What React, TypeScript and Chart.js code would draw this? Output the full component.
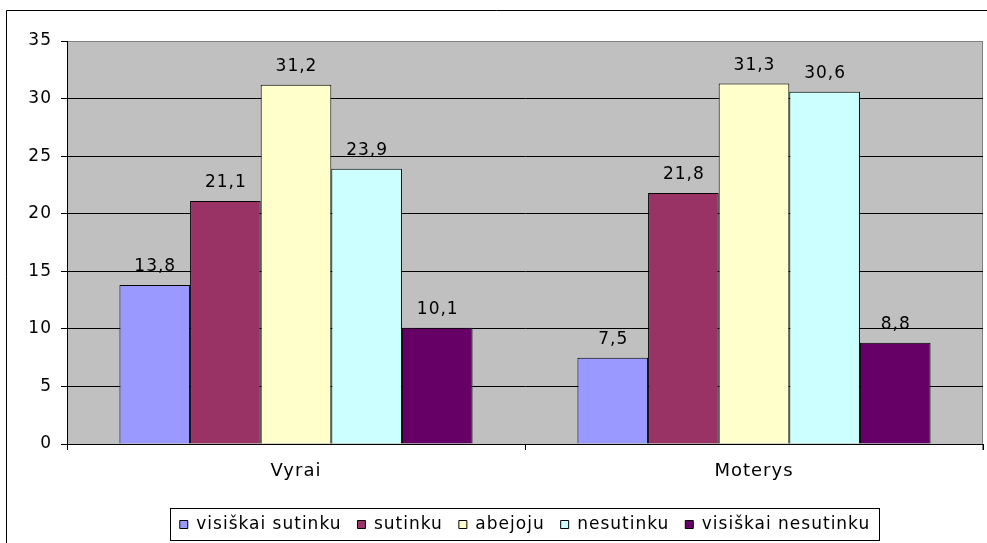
import React, { useEffect, useRef } from 'react';
import { Chart, registerables } from 'chart.js';

Chart.register(...registerables);

const categories = ['Vyrai', 'Moterys'];
const seriesNames = ['visiškai sutinku', 'sutinku', 'abejoju', 'nesutinku', 'visiškai nesutinku'];
const visiskaiSutinku = [13.8, 7.5];
const sutinku = [21.1, 21.8];
const abejoju = [31.2, 31.3];
const nesutinku = [23.9, 30.6];
const visiskaiNesutinku = [10.1, 8.8];
const seriesColors = ['#9999FF', '#993366', '#FFFFCC', '#CCFFFF', '#660066'];
const yMin = 0;
const yMax = 35;
const yStep = 5;

const FONT = "'DejaVu Sans', sans-serif";
const SPACING = '1px';

const fmt = (v: number) => v.toFixed(1).replace('.', ',');

const setSpacing = (chart: any) => {
  try {
    (chart.ctx as any).letterSpacing = SPACING;
  } catch (e) {
    /* ignore */
  }
};

const backgroundPlugin = {
  id: 'bgFrame',
  beforeLayout(chart: any) {
    setSpacing(chart);
  },
  beforeDraw(chart: any) {
    setSpacing(chart);
    const { ctx, chartArea, width, height } = chart;
    ctx.save();
    ctx.fillStyle = '#FFFFFF';
    ctx.fillRect(0, 0, width, height);
    // outer frame
    ctx.strokeStyle = '#000000';
    ctx.lineWidth = 1;
    ctx.beginPath();
    ctx.moveTo(6.5, height);
    ctx.lineTo(6.5, 10.5);
    ctx.lineTo(width, 10.5);
    ctx.stroke();
    // plot area
    ctx.fillStyle = '#C0C0C0';
    ctx.fillRect(chartArea.left, chartArea.top, chartArea.right - chartArea.left, chartArea.bottom - chartArea.top);
    ctx.strokeStyle = '#808080';
    ctx.beginPath();
    ctx.moveTo(chartArea.left, Math.round(chartArea.top) + 0.5);
    ctx.lineTo(Math.round(chartArea.right) - 0.5, Math.round(chartArea.top) + 0.5);
    ctx.lineTo(Math.round(chartArea.right) - 0.5, chartArea.bottom + 6);
    ctx.stroke();
    ctx.restore();
  },
};

const valueLabelPlugin = {
  id: 'valueLabels',
  afterDatasetsDraw(chart: any) {
    const { ctx } = chart;
    ctx.save();
    ctx.font = `17px ${FONT}`;
    ctx.fillStyle = '#000000';
    ctx.textAlign = 'center';
    ctx.textBaseline = 'alphabetic';
    chart.data.datasets.forEach((ds: any, i: number) => {
      const meta = chart.getDatasetMeta(i);
      meta.data.forEach((el: any, j: number) => {
        ctx.fillText(fmt(ds.data[j]), el.x + 0.5, el.y - 14);
      });
    });
    ctx.restore();
  },
};

const legendFramePlugin = {
  id: 'legendFrame',
  afterDraw(chart: any) {
    const lg = chart.legend;
    if (!lg || !lg.legendHitBoxes || !lg.legendHitBoxes.length) return;
    const hb = lg.legendHitBoxes;
    const first = hb[0];
    const last = hb[hb.length - 1];
    const x0 = Math.round(first.left - 10) + 0.5;
    const x1 = Math.round(last.left + last.width + 9) + 0.5;
    const cy = first.top + first.height / 2;
    const y0 = Math.round(cy - 17) + 0.5;
    const y1 = Math.round(cy + 15) + 0.5;
    const { ctx } = chart;
    ctx.save();
    ctx.strokeStyle = '#000000';
    ctx.lineWidth = 1;
    ctx.strokeRect(x0, y0, x1 - x0, y1 - y0);
    ctx.restore();
  },
};

export default function App() {
  const canvasRef = useRef<HTMLCanvasElement | null>(null);

  useEffect(() => {
    document.body.style.margin = '0';
    const canvas = canvasRef.current;
    if (!canvas) return;
    Chart.defaults.font.family = FONT;
    const seriesData = [visiskaiSutinku, sutinku, abejoju, nesutinku, visiskaiNesutinku];
    const chart = new Chart(canvas, {
      type: 'bar',
      data: {
        labels: categories,
        datasets: seriesNames.map((name, i) => ({
          label: name,
          data: seriesData[i],
          backgroundColor: seriesColors[i],
          borderColor: '#000000',
          borderWidth: 1,
          categoryPercentage: 0.771,
          barPercentage: 1,
        })),
      },
      options: {
        responsive: false,
        animation: false,
        devicePixelRatio: 1,
        layout: { padding: { top: 41, right: 4, bottom: 0, left: 0 } },
        plugins: {
          tooltip: { enabled: false },
          legend: {
            position: 'bottom',
            fullSize: false,
            labels: {
              boxWidth: 8,
              boxHeight: 8,
              padding: 16,
              color: '#000000',
              font: { size: 17, family: FONT },
            },
          },
        },
        scales: {
          x: {
            grid: {
              display: true,
              drawOnChartArea: false,
              drawTicks: true,
              tickLength: 6,
              color: '#000000',
              offset: true,
            },
            border: { display: true, color: '#000000', width: 1 },
            ticks: { color: '#000000', font: { size: 18, family: FONT }, padding: 11 },
            afterFit: (scale: any) => {
              scale.height = 56;
            },
          },
          y: {
            min: yMin,
            max: yMax,
            grid: {
              color: (c: any) => (c.tick && c.tick.value === yMax ? '#808080' : '#000000'),
              tickColor: '#000000',
              tickLength: 6,
              lineWidth: 1,
            },
            border: { display: true, color: '#000000', width: 1 },
            ticks: {
              stepSize: yStep,
              color: '#000000',
              font: { size: 17, family: FONT },
              padding: 9,
            },
            afterFit: (scale: any) => {
              scale.width = 67;
            },
          },
        },
      },
      plugins: [backgroundPlugin, valueLabelPlugin, legendFramePlugin],
    } as any);
    return () => chart.destroy();
  }, []);

  return <canvas ref={canvasRef} width={987} height={543} style={{ display: 'block' }} />;
}
